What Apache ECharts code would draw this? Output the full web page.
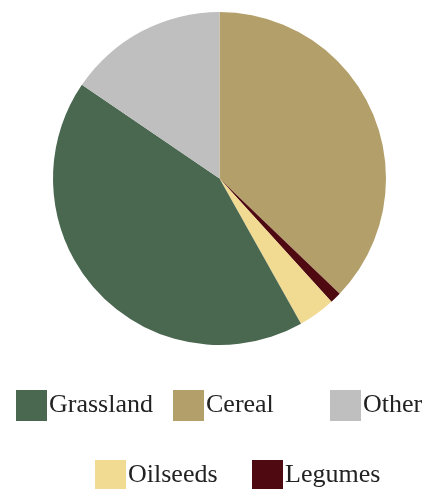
<!DOCTYPE html>
<html>
<head>
<meta charset="utf-8">
<style>
  html, body { margin: 0; padding: 0; background: #ffffff; }
  #chart { width: 427px; height: 489px; }
</style>
<script src="https://cdn.jsdelivr.net/npm/echarts@6/dist/echarts.min.js"></script>
</head>
<body>
<div id="chart"></div>
<script>
// Land use shares (%), in clockwise drawing order from 12 o'clock
const categories = ['Cereal', 'Legumes', 'Oilseeds', 'Grassland', 'Other'];
const shares = [37.2, 1.1, 3.6, 42.7, 15.5];
const colors = {
  Cereal: '#b39f6a',
  Legumes: '#4e0a10',
  Oilseeds: '#f1da92',
  Grassland: '#4a6750',
  Other: '#bfbfbf'
};
// Legend entries, laid out on a fixed grid of two rows
const legendRow1 = ['Grassland', 'Cereal', 'Other'];
const legendRow2 = ['Oilseeds', 'Legumes'];

const chart = echarts.init(document.getElementById('chart'), null, { renderer: 'canvas' });

function legendItem(name, left, top) {
  return {
    data: [name],
    left: left,
    top: top,
    padding: 0,
    itemWidth: 31,
    itemHeight: 31,
    icon: 'rect',
    selectedMode: false,
    textStyle: {
      fontFamily: 'Liberation Serif',
      fontSize: 26,
      color: '#222222',
      padding: [0, 0, 0, -3]
    }
  };
}

const legends = [];
legendRow1.forEach((name, i) => legends.push(legendItem(name, 16 + i * 157, 390)));
legendRow2.forEach((name, i) => legends.push(legendItem(name, 95 + i * 157, 460)));

chart.setOption({
  animation: false,
  legend: legends,
  series: [{
    type: 'pie',
    center: [219.5, 178.5],
    radius: [0, 166.5],
    startAngle: 90,
    clockwise: true,
    label: { show: false },
    labelLine: { show: false },
    emphasis: { disabled: true },
    itemStyle: { borderWidth: 0 },
    data: categories.map((name, i) => ({
      name: name,
      value: shares[i],
      itemStyle: { color: colors[name] }
    }))
  }]
});
</script>
</body>
</html>
